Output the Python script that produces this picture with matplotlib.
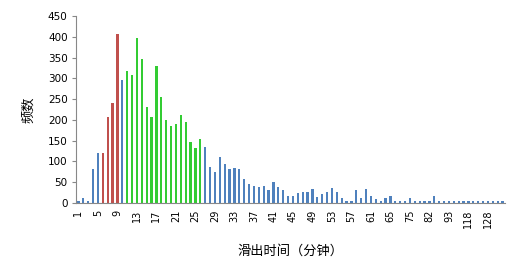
import numpy as np
import matplotlib
matplotlib.use('Agg')
import matplotlib.pyplot as plt

plt.rcParams['font.family'] = ['Noto Sans CJK SC', 'DejaVu Sans']

# categories (minutes), only every 4th one is labelled on the axis
minutes = list(range(1, 66)) + [66, 69, 71, 75, 76, 78, 80, 82, 84, 87, 90, 93,
                                98, 103, 110, 118, 120, 122, 125, 128, 132, 140, 150]

counts = [4, 11, 4, 82, 120, 120, 208, 241, 407, 296,
          317, 307, 397, 346, 232, 208, 329, 254, 200, 186,
          191, 212, 195, 147, 133, 154, 135, 87, 75, 111,
          94, 82, 84, 82, 57, 45, 40, 38, 40, 31,
          50, 38, 31, 16, 16, 23, 26, 26, 33, 14,
          21, 26, 36, 26, 11, 4, 4, 31, 11, 33,
          16, 9, 4, 11, 16, 4, 4, 4, 11, 4,
          4, 4, 4, 16, 4, 4, 4, 4, 4, 4,
          4, 4, 4, 4, 4, 4, 4, 4]

# highlighted groups
red_minutes = [6, 7, 8, 9]
green_minutes = list(range(11, 27))

BLUE = '#4F81BD'
RED = '#C0504D'
GREEN = '#33CC33'

colors = []
for m in minutes:
    if m in red_minutes:
        colors.append(RED)
    elif m in green_minutes:
        colors.append(GREEN)
    else:
        colors.append(BLUE)

fig = plt.figure(figsize=(5.21, 2.80), dpi=100)
ax = fig.add_axes([76/521, 1-203/280, (505-76)/521, (203-16)/280])

x = np.arange(len(minutes))
ax.bar(x, counts, width=0.45, color=colors)

ax.set_xlim(-0.5, len(minutes)-0.5)
ax.set_ylim(0, 450)
ax.set_yticks(np.arange(0, 451, 50))
ax.set_xticks(x[::4])
ax.set_xticklabels([str(m) for m in minutes[::4]], rotation=90, family='DejaVu Sans', fontsize=7)
for lab in ax.get_yticklabels():
    lab.set_family('DejaVu Sans')
ax.tick_params(axis='y', labelsize=7.5, length=3, color='#888888', pad=3)
ax.tick_params(axis='x', length=0, pad=5)

for s in ['top', 'right']:
    ax.spines[s].set_visible(False)
for s in ['left', 'bottom']:
    ax.spines[s].set_color('#888888')
    ax.spines[s].set_linewidth(0.8)

ax.set_xlabel('滑出时间（分钟）', fontsize=9.5, labelpad=12)
ax.set_ylabel('频数', fontsize=9.5, labelpad=9)

fig.savefig('out.png')
